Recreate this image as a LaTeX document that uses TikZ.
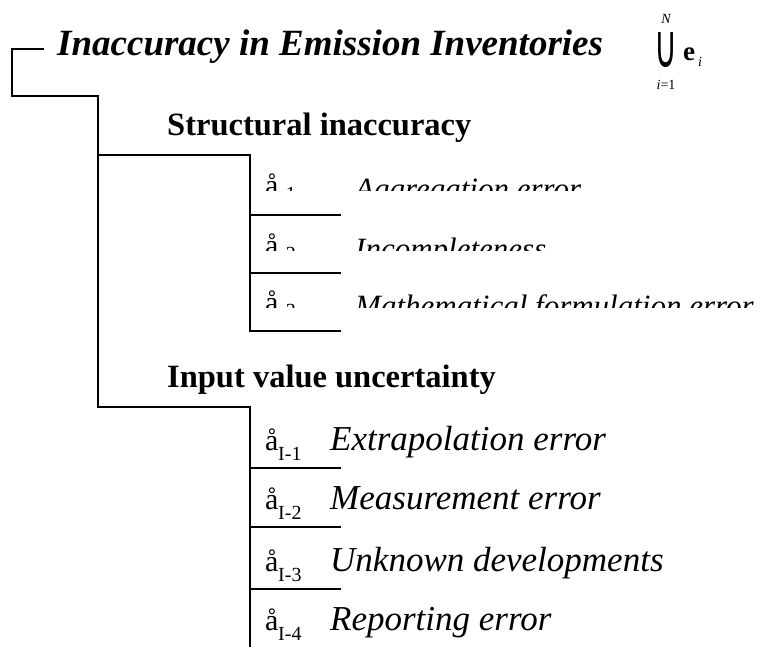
\documentclass[tikz,border=0pt]{standalone}
\usepackage{fontspec}
\usepackage{graphicx}
\setmainfont{Liberation Serif}
\newfontfamily\dvsfont{DejaVu Sans}
\tikzset{
  conn/.style={draw=black, line width=1.9pt, line cap=rect},
  ttl/.style={anchor=base west, inner sep=0pt, font=\fontsize{37}{40}\selectfont\bfseries\itshape},
  grp/.style={anchor=base west, inner sep=0pt, font=\fontsize{32.5}{36}\selectfont\bfseries},
  lab/.style={anchor=base west, inner sep=0pt, font=\fontsize{30}{32}\selectfont},
  sub/.style={anchor=base west, inner sep=0pt, font=\fontsize{20}{22}\selectfont},
  item/.style={anchor=base west, inner sep=0pt, font=\fontsize{35}{37}\selectfont\itshape},
  sitem/.style={anchor=base west, inner sep=0pt, font=\fontsize{31}{34}\selectfont\itshape},
  sm/.style={inner sep=0pt, font=\fontsize{14}{16}\selectfont\itshape},
}
\begin{document}
\begin{tikzpicture}[x=1pt,y=-1pt]
\useasboundingbox (0,0) rectangle (770,646);
% title and union
\node[ttl] (title) at (57,55) {Inaccuracy in Emission Inventories};
\node[inner sep=0pt] (cup) at (666,50) {\resizebox*{23pt}{35pt}{\fontsize{30}{30}\selectfont\dvsfont ∪}};
\node[sm, anchor=base] (cupN) at (666,23) {N};
\node[sm, anchor=base] (cupi) at (666,89) {i\upshape =1};
\node[anchor=base west, inner sep=0pt, font=\fontsize{27}{29}\selectfont\bfseries] (e) at (683,60) {e};
\node[sm, anchor=base west] (ei) at (698,66) {i};
% groups
\node[grp] (struct) at (167,135) {Structural inaccuracy};
\node[grp] (input) at (167,387) {Input value uncertainty};
% connector points
\coordinate (r0) at (43,49);
\coordinate (r1) at (12,49);
\coordinate (r2) at (12,96);
\coordinate (r3) at (98,96);
\coordinate (sA) at (98,155);
\coordinate (sB) at (250,155);
\coordinate (sC) at (250,331);
\coordinate (iA) at (98,407);
\coordinate (iB) at (250,407);
\coordinate (iC) at (250,646);
\draw[conn] (r0) -- (r1) -- (r2) -- (r3) -- (iA) -- (iB) -- (iC);
\draw[conn] (sA) -- (sB) -- (sC);
\foreach \y/\n in {215/s1,273/s2,331/s3,468/i1,527/i2,589/i3}{
  \coordinate (\n a) at (250,\y);
  \coordinate (\n b) at (340,\y);
  \draw[conn] (\n a) -- (\n b);
}
% structural items (clipped as printed)
\begin{scope}
\clip (252,156) rectangle (770,190);
\node[lab] (sl1) at (265,195) {å};
\node[sub] (ss1) at (279,200) {-1};
\node[sitem] (st1) at (355,199) {Aggregation error};
\end{scope}
\begin{scope}
\clip (252,216) rectangle (770,250);
\node[lab] (sl2) at (265,255) {å};
\node[sub] (ss2) at (279,260) {-2};
\node[sitem] (st2) at (355,259) {Incompleteness};
\end{scope}
\begin{scope}
\clip (252,274) rectangle (770,307);
\node[lab] (sl3) at (265,312) {å};
\node[sub] (ss3) at (279,317) {-3};
\node[sitem] (st3) at (355,316) {Mathematical formulation error};
\end{scope}
% input items
\foreach \n/\yb/\s/\t in {1/450/I-1/Extrapolation error, 2/509/I-2/Measurement error, 3/571/I-3/Unknown developments, 4/630/I-4/Reporting error}{
  \node[lab] (il\n) at (265,\yb) {å};
  \node[sub] (is\n) at (278,\yb+10) {\s};
  \node[item] (it\n) at (330,\yb) {\t};
}
\end{tikzpicture}
\end{document}
